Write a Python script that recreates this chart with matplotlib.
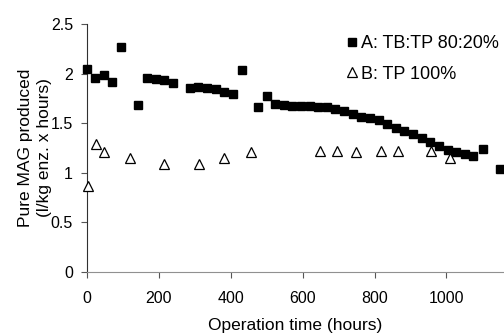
import matplotlib
matplotlib.use('Agg')
import matplotlib.pyplot as plt

plt.rcParams['font.family'] = ['Liberation Sans', 'DejaVu Sans']

# series A: TB:TP 80:20%
hours_a = [0, 22, 47, 70, 95, 143, 168, 191, 214, 238, 286, 310, 334, 358, 382,
           407, 432, 476, 501, 523, 547, 571, 595, 619, 643, 667, 691, 715, 739,
           763, 787, 811, 835, 859, 883, 907, 931, 955, 979, 1003, 1027, 1051,
           1075, 1102, 1148]
mag_a = [2.05, 1.96, 1.99, 1.92, 2.27, 1.68, 1.96, 1.95, 1.94, 1.91, 1.85, 1.86,
         1.855, 1.84, 1.81, 1.79, 2.04, 1.66, 1.77, 1.69, 1.68, 1.675, 1.67, 1.67,
         1.665, 1.66, 1.64, 1.62, 1.59, 1.565, 1.55, 1.53, 1.49, 1.45, 1.42, 1.39,
         1.35, 1.31, 1.27, 1.23, 1.21, 1.19, 1.17, 1.24, 1.035]

# series B: TP 100%
hours_b = [4, 24, 48, 120, 215, 312, 382, 456, 648, 696, 747, 817, 864, 958, 1009]
mag_b = [0.87, 1.29, 1.21, 1.15, 1.085, 1.085, 1.146, 1.207, 1.22, 1.22, 1.21,
         1.22, 1.22, 1.22, 1.146]

W, H = 504, 333
fig = plt.figure(figsize=(W / 100, H / 100), dpi=100, facecolor='white')
ax = fig.add_axes([87 / W, 61 / H, 1 - 87 / W, 248 / H])

ax.plot(hours_a, mag_a, linestyle='none', marker='s', markersize=6,
        color='black', label='A: TB:TP 80:20%', clip_on=False, zorder=3)
ax.plot(hours_b, mag_b, linestyle='none', marker='^', markersize=6.5,
        markerfacecolor='white', markeredgecolor='black', markeredgewidth=0.9,
        label='B: TP 100%', clip_on=False, zorder=3)

ax.set_xlim(0, 1160)
ax.set_ylim(0, 2.5)
ax.set_xticks([0, 200, 400, 600, 800, 1000])
ax.set_yticks([0, 0.5, 1, 1.5, 2, 2.5])
ax.set_yticklabels(['0', '0.5', '1', '1.5', '2', '2.5'])
ax.tick_params(labelsize=11.5, length=4, width=0.8, colors='#555555',
               labelcolor='black')
ax.tick_params(axis='x', pad=10)
ax.tick_params(axis='y', pad=6)

for side in ['top', 'right']:
    ax.spines[side].set_visible(False)
ax.spines['left'].set_color('#303030')
ax.spines['bottom'].set_color('#909090')

ax.set_xlabel('Operation time (hours)', fontsize=12.5, labelpad=8)
ax.set_ylabel('Pure MAG produced\n(l/kg enz. x hours)', fontsize=12.5,
              linespacing=1.35)
ax.yaxis.set_label_coords(-35 / 417, 0.5)

ax.legend(loc='upper left', bbox_to_anchor=(347 / W, 1 - 35 / H),
          bbox_transform=fig.transFigure, frameon=False, fontsize=13,
          handlelength=0.5, handletextpad=0.25, borderaxespad=0, borderpad=0,
          labelspacing=0.75)

fig.savefig('out.png', dpi=100, facecolor='white')
